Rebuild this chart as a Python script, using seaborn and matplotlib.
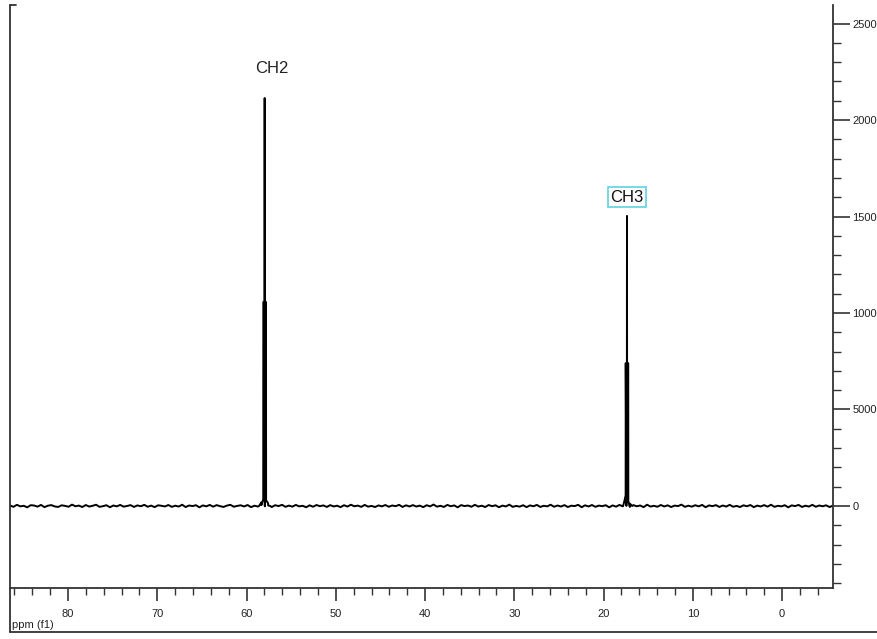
import numpy as np
import pandas as pd
import matplotlib
matplotlib.use("Agg")
import matplotlib.pyplot as plt
import seaborn as sns
from matplotlib.lines import Line2D
from matplotlib.ticker import MultipleLocator

# ---- data ----
baseline_noise = [30,-45,60,-20,10,-70,40,25,-35,55,-60,15,45,-25,-50,35,5,-40,70,-15,
                  20,-55,50,-30,10,65,-45,-10,40,-65,25,-20,55,-35,0,45,-50,30,-15,60,
                  -40,20,-60,35,10,-25,50,-45,15,-30,65,-55,25,-5,40,-70,30,-20,55,-35,
                  45,-10,-50,20,60,-40,5,35,-25,50,-60,15,-30,45,-15,25,-55,40,-5,60,
                  -45,20,-35,55,-20,10,-65,35,-40,50,-10,30,-50,45,-25,15,-60,40,-30,65,
                  -15,20,-45,55,-35,5,-55,30,-20,50,-40,25,-10,60,-50,35,-25,45,-30,20,
                  -60,40,-20,75,-35,10,-50,55,-15,30,-70,45,-5,25,-40,60,-30,15,-55,50,
                  -10,35,-65,20,-25,70,-45,5,-35,40,-60,30,-15,55,-50,10,-20,65,-40,25,
                  -30,45,-55,15,-5,60,-65,35,-25,50,-45,20,-10,40,-70,30,-35,55,-20,5,
                  -50,45,-15,25,-60,65,-30,10,-40,50,-25,35,-55,20,-5,70,-45,15,-35,40,
                  -20,55,-65,30,-10,45,-50,25,-30,60,-40,5,-55,35,-15,50,-60,20,-25,45,
                  -35,65,-45,10,-20,40,-70,30,-5,55,-50,15,-30,60,-40,25,-15,35,-55,20]
ppm_start, ppm_end = 86.5, -5.7

ch2_ppm = [58.60, 58.35, 58.13, 58.12, 57.98, 57.97, 57.96, 57.82, 57.81, 57.60, 57.35]
ch2_int = [0, 180, 350, 10570, 10570, 21140, 10570, 10570, 300, 150, 0]
ch3_ppm = [17.95, 17.70, 17.53, 17.52, 17.39, 17.38, 17.37, 17.24, 17.23, 17.05, 16.80]
ch3_int = [0, 200, 550, 7400, 7400, 15030, 7400, 7400, 250, 120, 0]

peak_labels = ["CH2", "CH3"]
peak_label_ppm = [57.2, 17.4]
peak_label_int = [22300, 16000]

x_major = [0, 10, 20, 30, 40, 50, 60, 70, 80]
y_major = [0, 5000, 10000, 15000, 20000, 25000]

# ---- build spectrum ----
base_ppm = np.linspace(ppm_start, ppm_end, len(baseline_noise))
df = pd.DataFrame({
    "ppm": np.concatenate([base_ppm, ch2_ppm, ch3_ppm]),
    "intensity": np.concatenate([baseline_noise, ch2_int, ch3_int]),
}).sort_values("ppm")

W, H = 878, 639
fig = plt.figure(figsize=(W / 100, H / 100), dpi=100)
sns.set_style("white")
plt.rcParams["font.family"] = ["Liberation Sans", "DejaVu Sans"]

ax = fig.add_axes([10 / W, 1 - 588 / H, (833 - 10) / W, (588 - 5) / H])
sns.lineplot(data=df, x="ppm", y="intensity", ax=ax, color="black",
             linewidth=1.4, sort=True, estimator=None)

ax.set_xlim(ppm_start, ppm_end)
ax.set_ylim(-4250, 25960)

ax.set_xlabel("")
ax.set_ylabel("")
for s in ["left", "top"]:
    ax.spines[s].set_visible(False)
for s in ["right", "bottom"]:
    ax.spines[s].set_visible(True)
    ax.spines[s].set_color("#333333")
    ax.spines[s].set_linewidth(1.3)

ax.yaxis.tick_right()
ax.set_yticks(y_major)
ax.set_yticklabels([str(v) for v in y_major])
ax.yaxis.set_minor_locator(MultipleLocator(1000))
ax.set_xticks(x_major)
ax.set_xticklabels([str(v) for v in x_major])
ax.xaxis.set_minor_locator(MultipleLocator(2))

ax.tick_params(axis="y", which="major", direction="out", length=12, width=1.2,
               colors="#333333", labelsize=8, pad=2, right=True, left=False,
               labelright=True, labelleft=False)
ax.tick_params(axis="y", which="minor", direction="out", length=6, width=1.0,
               colors="#333333", right=True, left=False)
ax.tick_params(axis="x", which="major", direction="out", length=9, width=1.2,
               colors="#333333", labelsize=8, pad=6, bottom=True)
ax.tick_params(axis="x", which="minor", direction="out", length=5, width=1.0,
               colors="#333333", bottom=True)
for lbl in ax.get_xticklabels() + ax.get_yticklabels():
    lbl.set_color("#222222")

# peak labels
ax.text(peak_label_ppm[0], peak_label_int[0], peak_labels[0], ha="center",
        va="bottom", fontsize=12, color="#222222")
ax.text(peak_label_ppm[1], peak_label_int[1], peak_labels[1], ha="center",
        va="center", fontsize=12, color="#111111",
        bbox=dict(boxstyle="square,pad=0.15", fc="white", ec="#5fd3e0", lw=1.2))

# outer frame lines (left and bottom)
fig.add_artist(Line2D([10 / W, 10 / W], [1 - 5 / H, 1 - 632 / H],
                      transform=fig.transFigure, color="#333333", lw=1.3))
fig.add_artist(Line2D([10 / W, 1.0], [1 - 632 / H, 1 - 632 / H],
                      transform=fig.transFigure, color="#333333", lw=1.3))
fig.add_artist(Line2D([10 / W, 16 / W], [1 - 5 / H, 1 - 5 / H],
                      transform=fig.transFigure, color="#333333", lw=1.3))
fig.text(12 / W, 1 - 625 / H, "ppm (f1)", fontsize=8, color="#222222",
         va="center", ha="left")

fig.savefig("out.png", dpi=100)
